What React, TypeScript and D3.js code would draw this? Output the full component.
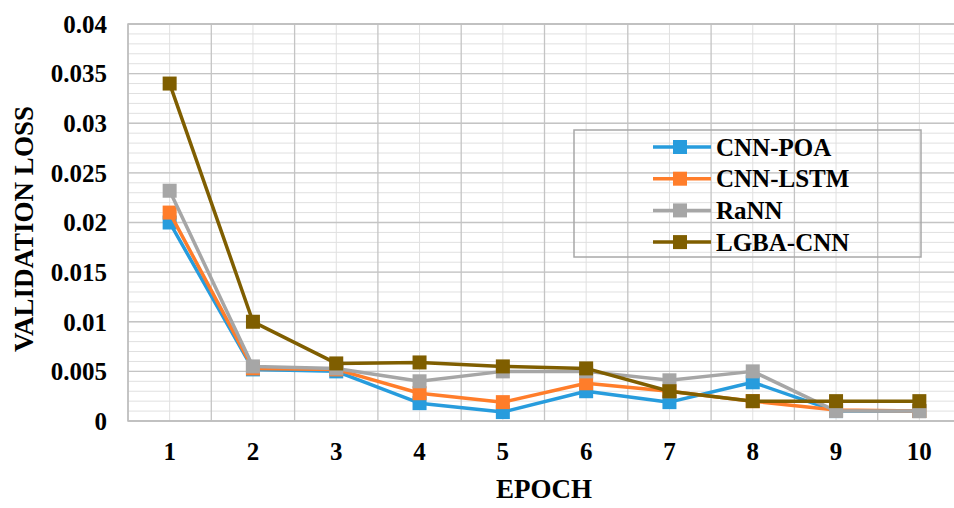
import * as d3 from 'd3';

const epochs = [1, 2, 3, 4, 5, 6, 7, 8, 9, 10];
const cnnPoa = [0.02, 0.0052, 0.005, 0.0018, 0.0009, 0.003, 0.0019, 0.0039, 0.001, 0.001];
const cnnLstm = [0.021, 0.0053, 0.0052, 0.0028, 0.0019, 0.0038, 0.003, 0.002, 0.0011, 0.001];
const raNN = [0.0232, 0.0055, 0.0053, 0.004, 0.005, 0.005, 0.0041, 0.005, 0.001, 0.001];
const lgbaCnn = [0.034, 0.01, 0.0058, 0.0059, 0.0055, 0.0053, 0.003, 0.002, 0.002, 0.002];
const yTicks = [0, 0.005, 0.01, 0.015, 0.02, 0.025, 0.03, 0.035, 0.04];
const yTickLabels = ['0', '0.005', '0.01', '0.015', '0.02', '0.025', '0.03', '0.035', '0.04'];

const series = [
  { name: 'CNN-POA', values: cnnPoa, color: '#279CDD' },
  { name: 'CNN-LSTM', values: cnnLstm, color: '#FF7D2A' },
  { name: 'RaNN', values: raNN, color: '#A6A6A6' },
  { name: 'LGBA-CNN', values: lgbaCnn, color: '#7F5E00' },
];

const W = 954;
const H = 508;
const plot = { left: 128, right: 961, top: 24, bottom: 421 };
const font = '"Liberation Serif", "Times New Roman", serif';

export default function App() {
  const x = d3.scaleLinear().domain([0.5, 10.5]).range([plot.left, plot.right]);
  const y = d3.scaleLinear().domain([0, 0.04]).range([plot.bottom, plot.top]);

  const line = d3
    .line<number>()
    .x((_, i) => x(epochs[i]))
    .y((d) => y(d));

  const minorY = d3.range(0, 41).map((k) => k * 0.001);
  const boundaries = d3.range(0, 11).map((k) => k + 0.5);

  const legend = { x: 574, y: 130, w: 347, h: 127 };
  const rowY = (i: number) => 147 + i * 31.7;
  const m = 14; // marker size

  return (
    <div style={{ position: 'absolute', left: 0, top: 0 }}>
      <svg width={W} height={H} viewBox={`0 0 ${W} ${H}`} style={{ display: 'block', background: '#fff' }}>
        {/* minor grid */}
        {minorY.map((v) => (
          <line key={'my' + v} x1={plot.left} x2={plot.right} y1={y(v)} y2={y(v)} stroke="#e0e0e0" strokeWidth={1} />
        ))}
        {epochs.map((e) => (
          <line key={'mx' + e} x1={x(e)} x2={x(e)} y1={plot.top} y2={plot.bottom} stroke="#e0e0e0" strokeWidth={1} />
        ))}
        {/* major grid */}
        {yTicks.map((v) => (
          <line key={'gy' + v} x1={plot.left} x2={plot.right} y1={y(v)} y2={y(v)} stroke="#c4c4c4" strokeWidth={1.3} />
        ))}
        {boundaries.map((b) => (
          <line key={'gx' + b} x1={x(b)} x2={x(b)} y1={plot.top} y2={plot.bottom} stroke="#c4c4c4" strokeWidth={1.3} />
        ))}
        <rect
          x={plot.left}
          y={plot.top}
          width={plot.right - plot.left}
          height={plot.bottom - plot.top}
          fill="none"
          stroke="#bdbdbd"
          strokeWidth={1.5}
        />

        {/* series */}
        {series.map((s) => (
          <g key={s.name}>
            <path d={line(s.values) ?? ''} fill="none" stroke={s.color} strokeWidth={3.5} strokeLinejoin="round" />
            {s.values.map((v, i) => (
              <rect key={i} x={x(epochs[i]) - m / 2} y={y(v) - m / 2} width={m} height={m} fill={s.color} />
            ))}
          </g>
        ))}

        {/* y tick labels */}
        {yTicks.map((v, i) => (
          <text
            key={'yl' + v}
            x={107}
            y={y(v)}
            dy="0.35em"
            textAnchor="end"
            fontFamily={font}
            fontWeight="bold"
            fontSize={25}
            fill="#000"
          >
            {yTickLabels[i]}
          </text>
        ))}
        {/* x tick labels */}
        {epochs.map((e) => (
          <text
            key={'xl' + e}
            x={x(e)}
            y={460}
            textAnchor="middle"
            fontFamily={font}
            fontWeight="bold"
            fontSize={25}
            fill="#000"
          >
            {e}
          </text>
        ))}

        {/* axis titles */}
        <text x={544} y={498} textAnchor="middle" fontFamily={font} fontWeight="bold" fontSize={27} fill="#000">
          EPOCH
        </text>
        <text
          transform="translate(33,229) rotate(-90)"
          textAnchor="middle"
          fontFamily={font}
          fontWeight="bold"
          fontSize={27}
          fill="#000"
        >
          VALIDATION LOSS
        </text>

        {/* legend */}
        <rect x={legend.x} y={legend.y} width={legend.w} height={legend.h} fill="none" stroke="#a8a8a8" strokeWidth={1.5} />
        {series.map((s, i) => (
          <g key={'lg' + s.name}>
            <line x1={653} x2={711} y1={rowY(i)} y2={rowY(i)} stroke={s.color} strokeWidth={3.5} />
            <rect x={680 - m / 2} y={rowY(i) - m / 2} width={m} height={m} fill={s.color} />
            <text
              x={716}
              y={rowY(i)}
              dy="0.35em"
              fontFamily={font}
              fontWeight="bold"
              fontSize={25}
              fill="#000"
            >
              {s.name}
            </text>
          </g>
        ))}
      </svg>
    </div>
  );
}
